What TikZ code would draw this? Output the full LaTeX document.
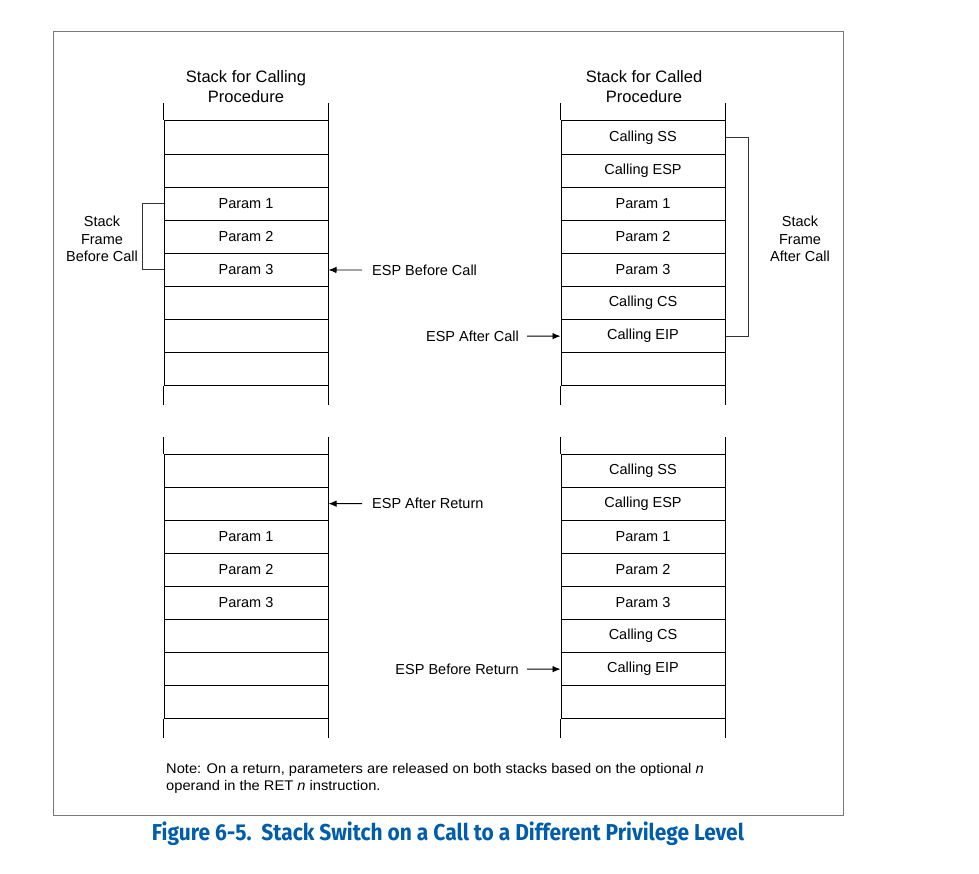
\documentclass[tikz,border=0pt]{standalone}
\usepackage{fontspec}
\usepackage{graphicx}
\setmainfont{Liberation Sans}
\newfontfamily\capfont{Fira Sans}
\usetikzlibrary{arrows.meta}
\definecolor{capblue}{RGB}{0,93,170}
\definecolor{framegray}{RGB}{120,120,120}
\begin{document}
\begin{tikzpicture}[x=1pt,y=-1pt,
  cell/.style={draw,line width=1pt,minimum width=164pt,minimum height=33.1pt,inner sep=0pt,font=\fontsize{14.5}{17}\selectfont},
  stackline/.style={line width=1pt},
  head/.style={align=center,inner sep=0pt,font=\fontsize{16.5}{20}\selectfont},
  lbl/.style={inner sep=0pt,font=\fontsize{14.5}{17.5}\selectfont},
  arr/.style={line width=0.9pt,-{Latex[length=8pt,width=6.5pt]}},
  brk/.style={line width=0.9pt,draw=black!80}]
\useasboundingbox (0,0) rectangle (979,874);
\draw[framegray,line width=1pt] (53,32) rectangle (843,815);

% headings
\node[head] (LH) at (246,87) {Stack for Calling\\Procedure};
\node[head] (RH) at (644,87) {Stack for Called\\Procedure};

% top-left stack
\foreach \i/\t in {0/,1/,2/Param 1,3/Param 2,4/Param 3,5/,6/,7/}
  \node[cell] (LT\i) at (246,{137.55+33.1*\i}) {\t};
% top-right stack
\foreach \i/\t in {0/Calling SS,1/Calling ESP,2/Param 1,3/Param 2,4/Param 3,5/Calling CS,6/Calling EIP,7/}
  \node[cell] (RT\i) at (643,{137.55+33.1*\i}) {\t};
% bottom-left stack
\foreach \i/\t in {0/,1/,2/Param 1,3/Param 2,4/Param 3,5/,6/,7/}
  \node[cell] (LB\i) at (246,{470.55+33.1*\i}) {\t};
% bottom-right stack
\foreach \i/\t in {0/Calling SS,1/Calling ESP,2/Param 1,3/Param 2,4/Param 3,5/Calling CS,6/Calling EIP,7/}
  \node[cell] (RB\i) at (643,{470.55+33.1*\i}) {\t};

% open ends of stacks
\foreach \s in {LT,RT,LB,RB}{
  \draw[stackline] (\s0.north west) -- ++(0,-17);
  \draw[stackline] (\s0.north east) -- ++(0,-17);
  \draw[stackline] (\s7.south west) -- ++(0,19);
  \draw[stackline] (\s7.south east) -- ++(0,19);
}

% brackets
\node[lbl,align=center] (sfb) at (102,239) {Stack\\Frame\\Before Call};
\node[lbl,align=center] (sfa) at (800,239) {Stack\\Frame\\After Call};
\draw[brk] (LT2.west) -- ++(-21,0) |- (LT4.west);
\draw[brk] (RT0.east) -- ++(23,0) |- (RT6.east);

% ESP pointers
\node[lbl,anchor=west] (ebc) at (372,270.05) {ESP Before Call};
\draw[arr] ([xshift=-10pt]ebc.west) -- (LT4.east);
\node[lbl,anchor=east] (eac) at (519,336.15) {ESP After Call};
\draw[arr] ([xshift=8pt]eac.east) -- (RT6.west);
\node[lbl,anchor=west] (ear) at (372,503.65) {ESP After Return};
\draw[arr] ([xshift=-10pt]ear.west) -- (LB1.east);
\node[lbl,anchor=east] (ebr) at (519,669.15) {ESP Before Return};
\draw[arr] ([xshift=8pt]ebr.east) -- (RB6.west);

% note
\node[anchor=north west,inner sep=0pt,font=\fontsize{14}{18}\selectfont] (note) at (166,763)
  {\scalebox{1.047}[1]{\shortstack[l]{Note: On a return, parameters are released on both stacks based on the optional \textit{n}\\[1pt]operand in the RET \textit{n} instruction.}}};

% caption
\node[inner sep=0pt,text=capblue,font=\capfont\bfseries\fontsize{23}{27}\selectfont] (cap) at (448,834)
  {\resizebox{592pt}{\height}{Figure 6-5.\ \ Stack Switch on a Call to a Different Privilege Level}};
\end{tikzpicture}
\end{document}
